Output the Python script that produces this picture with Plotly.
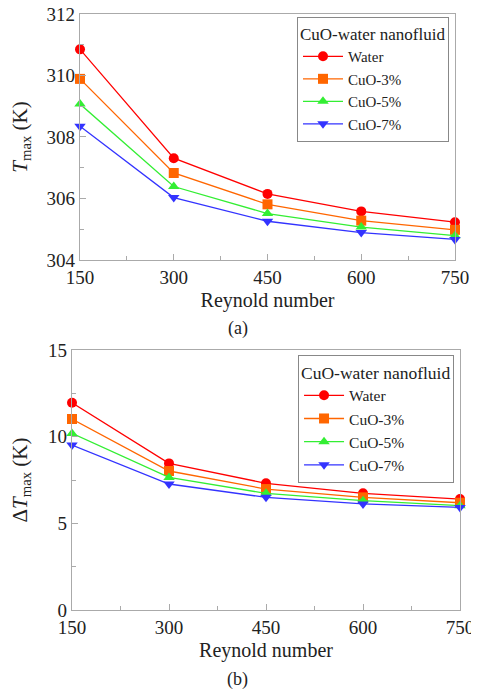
import plotly.graph_objects as go

reynolds = [150, 300, 450, 600, 750]
series_names = ["Water", "CuO-3%", "CuO-5%", "CuO-7%"]

# Tmax (K), panel (a)
tmax_water = [310.85, 307.31, 306.15, 305.58, 305.23]
tmax_cuo3 = [309.89, 306.83, 305.81, 305.28, 304.98]
tmax_cuo5 = [309.07, 306.39, 305.51, 305.07, 304.79]
tmax_cuo7 = [308.35, 306.03, 305.26, 304.89, 304.67]

# delta Tmax (K), panel (b)
dtmax_water = [11.96, 8.46, 7.31, 6.73, 6.40]
dtmax_cuo3 = [11.02, 8.02, 6.98, 6.50, 6.19]
dtmax_cuo5 = [10.19, 7.65, 6.73, 6.31, 6.02]
dtmax_cuo7 = [9.52, 7.27, 6.50, 6.12, 5.92]

colors = ["#ff0000", "#ff6600", "#33ee33", "#3333ff"]
symbols = ["circle", "square", "triangle-up", "triangle-down"]
font = "Liberation Serif, Times New Roman, DejaVu Serif, serif"
ink = "#222222"

fig = go.Figure()

panels = [
    ([tmax_water, tmax_cuo3, tmax_cuo5, tmax_cuo7], "x", "y", "legend"),
    ([dtmax_water, dtmax_cuo3, dtmax_cuo5, dtmax_cuo7], "x2", "y2", "legend2"),
]
for data, xa, ya, leg in panels:
    for name, vals, col, sym in zip(series_names, data, colors, symbols):
        fig.add_trace(go.Scatter(
            x=reynolds, y=vals, name=name, mode="lines+markers",
            line=dict(color=col, width=1.3),
            marker=dict(symbol=sym, size=10, color=col),
            xaxis=xa, yaxis=ya, legend=leg, cliponaxis=False,
        ))

axis_common = dict(
    showline=True, linecolor="#aaaaaa", linewidth=1.2, mirror=True,
    ticks="inside", ticklen=6, tickcolor="#aaaaaa",
    showgrid=False, zeroline=False, automargin=False,
    ticklabeloverflow="allow",
    tickfont=dict(family=font, size=19, color=ink),
)
xaxis_common = dict(
    axis_common, range=[150, 750], tickvals=reynolds,
    minor=dict(tickvals=[225, 375, 525, 675], ticks="inside", ticklen=4, tickcolor="#aaaaaa"),
    title=dict(text="Reynold number", font=dict(family=font, size=20, color=ink), standoff=6),
)


def legend_box(x, y, size, title_size):
    return dict(
        x=x, y=y, xanchor="right", yanchor="top",
        bgcolor="white", bordercolor="#888888", borderwidth=1,
        font=dict(family=font, size=size, color=ink),
        title=dict(text="CuO-water nanofluid", font=dict(family=font, size=title_size, color=ink)),
        itemwidth=40, tracegroupgap=0,
    )


# the page body has an 8px margin, so the figure is 471x690 and sits at (8, 8)
fig.update_layout(
    template="none",
    width=471, height=690,
    margin=dict(l=0, r=0, t=0, b=0),
    paper_bgcolor="white", plot_bgcolor="white",
    xaxis=dict(xaxis_common, domain=[0.1529, 0.9490], anchor="y"),
    yaxis=dict(axis_common, domain=[0.6348, 0.9913], anchor="x", range=[304, 312],
               tickvals=[304, 306, 308, 310, 312],
               minor=dict(tickvals=[305, 307, 309, 311], ticks="inside", ticklen=4, tickcolor="#aaaaaa"),
               title=dict(text="<i>T</i><sub>max</sub> (K)", font=dict(family=font, size=21, color=ink), standoff=24)),
    xaxis2=dict(xaxis_common, domain=[0.1359, 0.9597], anchor="y2"),
    yaxis2=dict(axis_common, domain=[0.1275, 0.5043], anchor="x2", range=[0, 15],
                tickvals=[0, 5, 10, 15],
                minor=dict(tickvals=[2.5, 7.5, 12.5], ticks="inside", ticklen=4, tickcolor="#aaaaaa"),
                title=dict(text="Δ<i>T</i><sub>max</sub> (K)", font=dict(family=font, size=21, color=ink), standoff=35)),
    legend=legend_box(0.9363, 0.9870, 15, 17),
    legend2=legend_box(0.9470, 0.4971, 15.5, 17.5),
    annotations=[
        dict(text="(a)", x=0.4883, y=0.5362, xref="paper", yref="paper", showarrow=False,
             xanchor="center", yanchor="middle", font=dict(family=font, size=18, color=ink)),
        dict(text="(b)", x=0.4883, y=0.0261, xref="paper", yref="paper", showarrow=False,
             xanchor="center", yanchor="middle", font=dict(family=font, size=18, color=ink)),
    ],
)

fig.write_html("out.html")
